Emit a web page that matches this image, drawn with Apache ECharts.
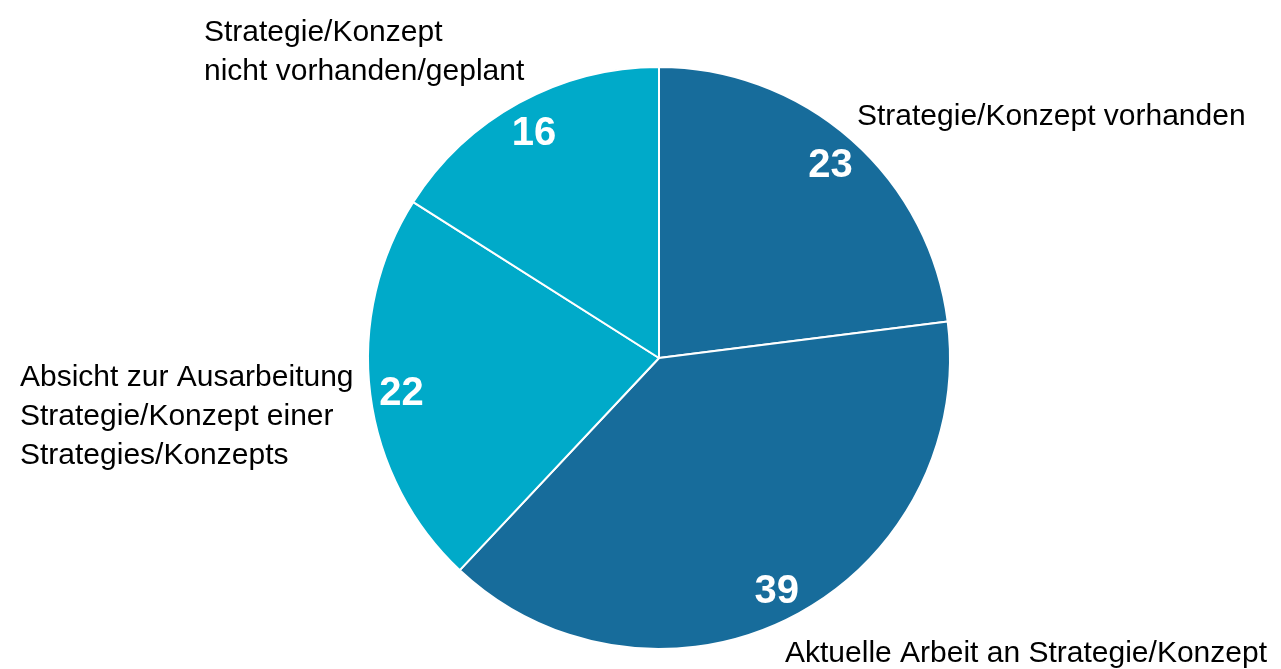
<!DOCTYPE html>
<html><head><meta charset="utf-8">
<script src="https://cdn.jsdelivr.net/npm/echarts@6/dist/echarts.min.js"></script>
<style>html,body{margin:0;padding:0;background:#fff}#c{width:1281px;height:669px}</style>
</head><body><div id="c"></div>
<script>
const categories = [
  'Strategie/Konzept vorhanden',
  'Aktuelle Arbeit an Strategie/Konzept',
  'Absicht zur Ausarbeitung\nStrategie/Konzept einer\nStrategies/Konzepts',
  'Strategie/Konzept\nnicht vorhanden/geplant'
];
const values = [23, 39, 22, 16];
const colors = ['#176c9b', '#176c9b', '#00aac9', '#00aac9'];

const font = '"Liberation Sans Narrow", "Liberation Sans", Arial, sans-serif';
const data = categories.map((n, i) => ({ name: n, value: values[i], itemStyle: { color: colors[i] } }));
const labelPos = [
  { x: 857, y: 117, verticalAlign: 'middle' },
  { x: 785, y: 654, verticalAlign: 'middle' },
  { x: 20, y: 358, verticalAlign: 'top' },
  { x: 204, y: 13, verticalAlign: 'top' }
];

const chart = echarts.init(document.getElementById('c'));
chart.setOption({
  animation: false,
  series: [
    {
      type: 'pie', center: [659, 358], radius: [0, 291], startAngle: 90, clockwise: true,
      silent: true,
      itemStyle: { borderColor: '#fff', borderWidth: 2 },
      label: { show: true, position: 'outside', color: '#000', fontFamily: font, fontSize: 30, lineHeight: 39, align: 'left', overflow: 'none', width: 600 },
      labelLine: { show: false },
      labelLayout: (p) => Object.assign({ align: 'left' }, labelPos[p.dataIndex]),
      data: data
    },
    {
      type: 'pie', center: [659, 361], radius: [222, 291], startAngle: 90, clockwise: true,
      silent: true,
      itemStyle: { color: 'transparent', borderWidth: 0 },
      label: { show: true, position: 'inside', formatter: '{c}', color: '#fff', fontFamily: font, fontWeight: 'bold', fontSize: 40 },
      labelLine: { show: false },
      data: values.map((v, i) => ({ name: categories[i], value: v, itemStyle: { color: 'transparent' } }))
    }
  ]
});
</script></body></html>
